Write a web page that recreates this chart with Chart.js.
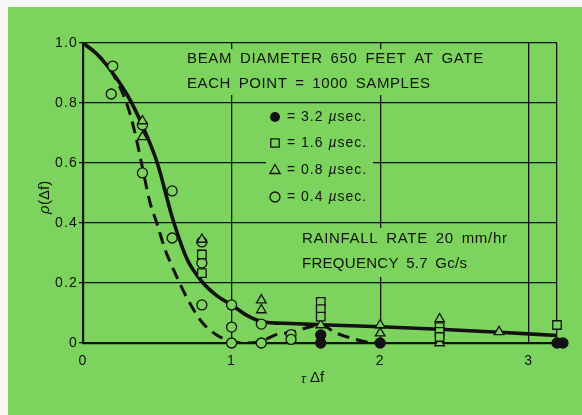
<!DOCTYPE html>
<html>
<head>
<meta charset="utf-8">
<script src="https://cdn.jsdelivr.net/npm/chart.js@4.4.1/dist/chart.umd.min.js"></script>
<style>
  html, body { margin: 0; padding: 0; background: #f6f7f4; overflow: hidden; }
  canvas { display: block; }
</style>
</head>
<body>
<canvas id="corrChart" width="582" height="415"></canvas>
<script>
// axis ticks
const xTicks = [0, 1, 2, 3];
const yTicks = [0, 0.2, 0.4, 0.6, 0.8, 1.0];
const xMax = 3.19;

// solid curve (fitted)
const solidX = [0, 0.1, 0.2, 0.3, 0.4, 0.5, 0.6, 0.7, 0.8, 0.9, 1.0, 1.1, 1.2, 1.4, 1.6, 2.0, 2.4, 2.8, 3.19];
const solidY = [1.0, 0.96, 0.90, 0.825, 0.725, 0.60, 0.42, 0.28, 0.205, 0.158, 0.127, 0.093, 0.072, 0.065, 0.061, 0.054, 0.046, 0.036, 0.025];

// dashed curve
const dashX = [0, 0.1, 0.2, 0.3, 0.35, 0.4, 0.45, 0.5, 0.55, 0.6, 0.7, 0.8, 0.9, 1.0, 1.1, 1.2, 1.3, 1.4, 1.5, 1.6, 1.7, 1.8, 1.9, 2.0];
const dashY = [1.0, 0.96, 0.898, 0.79, 0.70, 0.585, 0.47, 0.395, 0.315, 0.255, 0.15, 0.07, 0.027, 0.005, 0.0, 0.006, 0.028, 0.036, 0.05, 0.06, 0.034, 0.017, 0.004, 0.0];

// measured points, one pair of arrays per pulse length
const p32X = [1.6, 1.6, 2.0, 3.23, 3.19];
const p32Y = [0.027, 0.0, 0.0, 0.0, 0.0];
const p16X = [0.8, 0.8, 1.6, 1.6, 1.6, 2.4, 2.4, 2.4, 3.19];
const p16Y = [0.295, 0.233, 0.137, 0.113, 0.088, 0.053, 0.037, 0.02, 0.06];
const p08X = [0.4, 0.4, 0.8, 1.2, 1.2, 1.6, 2.0, 2.0, 2.4, 2.4, 2.8];
const p08Y = [0.74, 0.687, 0.345, 0.143, 0.11, 0.06, 0.06, 0.033, 0.08, 0.0, 0.037];
const p04X = [0.19, 0.2, 0.4, 0.4, 0.6, 0.6, 0.8, 0.8, 0.8, 1.0, 1.0, 1.0, 1.2, 1.2, 1.4, 1.4];
const p04Y = [0.83, 0.923, 0.727, 0.567, 0.507, 0.35, 0.337, 0.267, 0.127, 0.127, 0.053, 0.0, 0.063, 0.0, 0.028, 0.012];

const legendLabels = ['3.2', '1.6', '0.8', '0.4'];
const legendStyles = ['dot', 'rect', 'triangle', 'circle'];

const GREEN = '#7cd45e';
const INK = '#121212';
const FONT = '"Liberation Sans", Arial, sans-serif';

const toPoints = (xs, ys) => xs.map((x, i) => ({ x: x, y: ys[i] }));

// draw a text with tracking stretched to a given width
function spacedText(ctx, str, x, y, width) {
    ctx.letterSpacing = '0px';
    const w = ctx.measureText(str).width;
    ctx.letterSpacing = ((width - w) / (str.length - 1)).toFixed(2) + 'px';
    ctx.fillText(str, x, y);
    ctx.letterSpacing = '0px';
}

function drawMarker(ctx, style, x, y) {
    ctx.save();
    ctx.lineWidth = 1.3;
    ctx.strokeStyle = INK;
    ctx.fillStyle = GREEN;
    ctx.beginPath();
    if (style === 'dot') {
        ctx.arc(x, y, 5, 0, Math.PI * 2);
        ctx.fillStyle = INK;
        ctx.fill();
    } else if (style === 'rect') {
        ctx.rect(x - 4.2, y - 4.2, 8.4, 8.4);
        ctx.fill(); ctx.stroke();
    } else if (style === 'triangle') {
        ctx.moveTo(x, y - 5.5);
        ctx.lineTo(x + 5.2, y + 3.5);
        ctx.lineTo(x - 5.2, y + 3.5);
        ctx.closePath();
        ctx.fill(); ctx.stroke();
    } else {
        ctx.arc(x, y, 5, 0, Math.PI * 2);
        ctx.fill(); ctx.stroke();
    }
    ctx.restore();
}

const paperPlugin = {
    id: 'paper',
    beforeDraw(chart) {
        const ctx = chart.ctx;
        ctx.fillStyle = '#f6f7f4';
        ctx.fillRect(0, 0, chart.width, chart.height);
        ctx.fillStyle = GREEN;
        ctx.fillRect(8, 7, chart.width - 8, chart.height - 7);
        // loose tracking for the tick labels
        ctx.letterSpacing = '1.2px';
    },
    beforeDatasetsDraw(chart) {
        const ctx = chart.ctx;
        ctx.save();
        // blank the grid behind the text blocks
        ctx.fillStyle = GREEN;
        ctx.fillRect(182, 49, 312, 46);
        ctx.fillRect(266, 107, 107, 106);
        ctx.fillRect(296, 228, 217, 49);

        ctx.fillStyle = INK;
        ctx.textBaseline = 'middle';
        ctx.textAlign = 'left';
        ctx.font = '15px ' + FONT;
        ctx.wordSpacing = '3px';
        spacedText(ctx, 'BEAM DIAMETER 650 FEET AT GATE', 187, 59, 296);
        spacedText(ctx, 'EACH POINT = 1000 SAMPLES', 187, 84, 243);
        spacedText(ctx, 'RAINFALL RATE 20 mm/hr', 302, 239, 205);
        spacedText(ctx, 'FREQUENCY 5.7 Gc/s', 302, 264, 165);
        ctx.wordSpacing = '0px';

        // legend
        const rows = [117, 143, 170, 197];
        legendLabels.forEach((lab, i) => {
            const y = rows[i];
            drawMarker(ctx, legendStyles[i], 275, y);
            ctx.fillStyle = INK;
            ctx.letterSpacing = '1px';
            ctx.font = '14px ' + FONT;
            let x = 287;
            const head = '= ' + lab + ' ';
            ctx.fillText(head, x, y);
            x += ctx.measureText(head).width;
            ctx.font = 'italic 14px ' + FONT;
            ctx.fillText('\u00b5', x, y);
            x += ctx.measureText('\u00b5').width;
            ctx.font = '14px ' + FONT;
            ctx.fillText('sec.', x, y);
            ctx.letterSpacing = '0px';
        });

        // axis titles
        ctx.font = 'italic 13px ' + FONT;
        ctx.fillText('\u03c4', 301, 379);
        ctx.font = '15px ' + FONT;
        ctx.fillText('\u0394f', 310, 378);

        ctx.translate(45, 195);
        ctx.rotate(-Math.PI / 2);
        ctx.textAlign = 'left';
        ctx.font = 'italic 15px ' + FONT;
        ctx.fillText('\u03c1', -19, 0);
        ctx.font = '15px ' + FONT;
        ctx.fillText('(\u0394f)', -10, 0);
        ctx.restore();
    }
};

const markerBase = {
    showLine: false,
    borderColor: INK,
    backgroundColor: GREEN,
    pointBorderWidth: 1.3,
    pointHoverRadius: 5,
    clip: false,
    order: 1
};

const ctx = document.getElementById('corrChart').getContext('2d');
const corrChart = new Chart(ctx, {
    type: 'scatter',
    data: {
        datasets: [
            Object.assign({}, markerBase, {
                label: '3.2 usec',
                data: toPoints(p32X, p32Y),
                pointStyle: 'circle',
                pointRadius: 5,
                backgroundColor: INK
            }),
            Object.assign({}, markerBase, {
                label: '1.6 usec',
                data: toPoints(p16X, p16Y),
                pointStyle: 'rect',
                pointRadius: 6
            }),
            Object.assign({}, markerBase, {
                label: '0.8 usec',
                data: toPoints(p08X, p08Y),
                pointStyle: 'triangle',
                pointRadius: 5.5
            }),
            Object.assign({}, markerBase, {
                label: '0.4 usec',
                data: toPoints(p04X, p04Y),
                pointStyle: 'circle',
                pointRadius: 5
            }),
            {
                label: 'solid',
                data: toPoints(solidX, solidY),
                showLine: true,
                borderColor: INK,
                borderWidth: 3.6,
                pointRadius: 0,
                tension: 0.4,
                cubicInterpolationMode: 'monotone',
                borderCapStyle: 'round',
                order: 5
            },
            {
                label: 'dashed',
                data: toPoints(dashX, dashY),
                showLine: true,
                borderColor: INK,
                borderWidth: 3,
                borderDash: [12, 7],
                pointRadius: 0,
                tension: 0.4,
                cubicInterpolationMode: 'monotone',
                order: 5
            }
        ]
    },
    options: {
        responsive: false,
        animation: false,
        devicePixelRatio: 1,
        layout: { padding: { top: 43, right: 25, left: 0, bottom: 0 } },
        plugins: {
            legend: { display: false },
            tooltip: { enabled: false }
        },
        scales: {
            x: {
                type: 'linear',
                min: 0,
                max: xMax,
                afterFit: (scale) => { scale.height = 72; },
                afterBuildTicks: (scale) => {
                    scale.ticks = xTicks.concat([xMax]).map(v => ({ value: v }));
                },
                grid: { color: INK, lineWidth: 1.3, drawTicks: false },
                border: { color: INK, width: 2.2 },
                ticks: {
                    color: INK,
                    padding: 10,
                    font: { family: FONT, size: 14 },
                    callback: (v) => Number.isInteger(v) ? String(v) : ''
                }
            },
            y: {
                type: 'linear',
                min: 0,
                max: 1.0,
                afterFit: (scale) => { scale.width = 83; },
                afterBuildTicks: (scale) => {
                    scale.ticks = yTicks.map(v => ({ value: v }));
                },
                grid: { color: INK, lineWidth: 1.3, tickLength: 4 },
                border: { color: INK, width: 2.2 },
                ticks: {
                    color: INK,
                    padding: 1,
                    font: { family: FONT, size: 14 },
                    callback: (v) => v === 0 ? '0' : v.toFixed(1)
                }
            }
        }
    },
    plugins: [paperPlugin]
});
</script>
</body>
</html>
